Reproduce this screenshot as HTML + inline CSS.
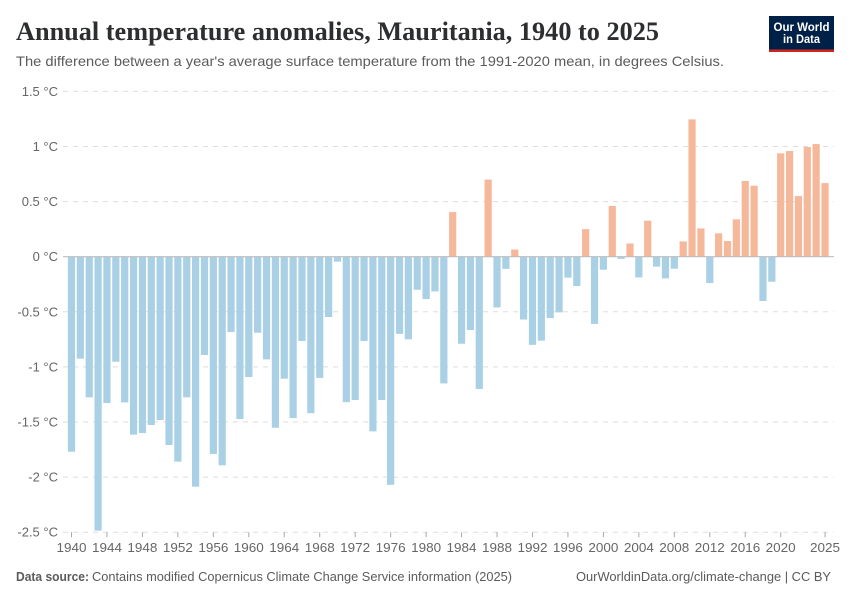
<!DOCTYPE html>
<html lang="en">
<head>
<meta charset="utf-8">
<title>Annual temperature anomalies, Mauritania, 1940 to 2025</title>
<style>
html,body{margin:0;padding:0;background:#fff;}
svg{display:block;font-family:"Liberation Sans",sans-serif;}
</style>
</head>
<body>
<svg id="chart" xmlns="http://www.w3.org/2000/svg" width="850" height="600" viewBox="0 0 850 600">
  <rect x="0" y="0" width="850" height="600" fill="#fff"/>
  <text x="16" y="40" font-family="'Liberation Serif',serif" font-weight="700" font-size="26" fill="#2d2e30" textLength="643" lengthAdjust="spacingAndGlyphs">Annual temperature anomalies, Mauritania, 1940 to 2025</text>
  <text x="16" y="66" font-size="14" fill="#5b5b5b" textLength="708" lengthAdjust="spacingAndGlyphs">The difference between a year's average surface temperature from the 1991-2020 mean, in degrees Celsius.</text>
  <g>
    <rect x="769" y="16" width="65" height="36" fill="#002147"/>
    <rect x="769" y="49.5" width="65" height="2.5" fill="#ce261e"/>
    <text x="801.5" y="31" text-anchor="middle" font-size="11.5" font-weight="700" fill="#fff" textLength="56" lengthAdjust="spacingAndGlyphs">Our World</text>
    <text x="801.5" y="43" text-anchor="middle" font-size="11.5" font-weight="700" fill="#fff" textLength="37" lengthAdjust="spacingAndGlyphs">in Data</text>
  </g>
  <g id="grid"></g>
  <g id="yLabels"></g>
  <g id="bars"></g>
  <g id="xAxis"></g>
  <text x="16" y="581" font-size="12.5" font-weight="700" fill="#5b5b5b" textLength="73" lengthAdjust="spacingAndGlyphs">Data source:</text>
  <text x="92" y="581" font-size="12.5" fill="#5b5b5b" textLength="420" lengthAdjust="spacingAndGlyphs">Contains modified Copernicus Climate Change Service information (2025)</text>
  <text x="576" y="581" font-size="12.5" fill="#5b5b5b" textLength="255" lengthAdjust="spacingAndGlyphs">OurWorldinData.org/climate-change | CC BY</text>
</svg>
<script>
const firstYear = 1940;
const anomalies = [
  -1.77, -0.925, -1.276, -2.486, -1.328, -0.953, -1.322, -1.615, -1.6, -1.527,
  -1.482, -1.709, -1.86, -1.276, -2.087, -0.892, -1.79, -1.893, -0.684, -1.473,
  -1.092, -0.69, -0.932, -1.552, -1.107, -1.464, -0.765, -1.42, -1.1, -0.547,
  -0.045, -1.32, -1.3, -0.765, -1.585, -1.3, -2.07, -0.7, -0.75, -0.3,
  -0.384, -0.315, -1.15, 0.405, -0.79, -0.665, -1.2, 0.7, -0.46, -0.11,
  0.065, -0.57, -0.8, -0.762, -0.557, -0.505, -0.19, -0.266, 0.25, -0.61,
  -0.118, 0.46, -0.02, 0.12, -0.188, 0.327, -0.09, -0.197, -0.109, 0.139,
  1.246, 0.257, -0.239, 0.212, 0.142, 0.339, 0.687, 0.644, -0.402, -0.227,
  0.938, 0.959, 0.55, 0.995, 1.022, 0.668
];
const yTicks = [1.5, 1, 0.5, 0, -0.5, -1, -1.5, -2, -2.5];
const xTicks = [1940, 1944, 1948, 1952, 1956, 1960, 1964, 1968, 1972, 1976, 1980, 1984, 1988, 1992, 1996, 2000, 2004, 2008, 2012, 2016, 2020, 2025];

const NS = 'http://www.w3.org/2000/svg';
const xScale = year => 71.5 + (year - 1940) * 8.865;
const yScale = value => 256.7 - value * 110.2;
const yLabel = value => value + ' °C';

function make(parentId, tag, attrs, text) {
  const el = document.createElementNS(NS, tag);
  for (const k in attrs) el.setAttribute(k, attrs[k]);
  if (text !== undefined) el.textContent = text;
  document.getElementById(parentId).appendChild(el);
  return el;
}

yTicks.forEach(t => {
  const y = yScale(t);
  if (t !== 0) {
    const grid = make('grid', 'line', {x1: 63, x2: 834, y1: y, y2: y, stroke: '#dddddd', 'stroke-width': 1, 'stroke-dasharray': '5,5'});
    
    
  }
  const label = make('yLabels', 'text', {x: 58, y: y + 4.5, 'text-anchor': 'end', 'font-size': 13, fill: '#666666'}, yLabel(t));
  
  
});

anomalies.forEach((v, i) => {
  const year = firstYear + i;
  const y0 = yScale(0);
  const y1 = yScale(v);
  const bar = make('bars', 'rect', {
    x: xScale(year) - 3.6,
    y: Math.min(y0, y1),
    width: 7.2,
    height: Math.abs(y1 - y0),
    fill: v < 0 ? '#a9d0e5' : '#f6b89b'
  });
  
  
});

const zero = make('xAxis', 'line', {x1: 63, x2: 834, y1: yScale(0), y2: yScale(0), stroke: '#bdbdbd', 'stroke-width': 1.2});



xTicks.forEach(year => {
  const x = xScale(year);
  const tick = make('xAxis', 'line', {x1: x, x2: x, y1: yScale(-2.5), y2: yScale(-2.5) + 5, stroke: '#a8a8a8', 'stroke-width': 1});
  
  
  const label = make('xAxis', 'text', {x: x, y: 552, 'text-anchor': 'middle', 'font-size': 13, fill: '#666666', textLength: 30, lengthAdjust: 'spacingAndGlyphs'}, String(year));
  
  
});
</script>
</body>
</html>
